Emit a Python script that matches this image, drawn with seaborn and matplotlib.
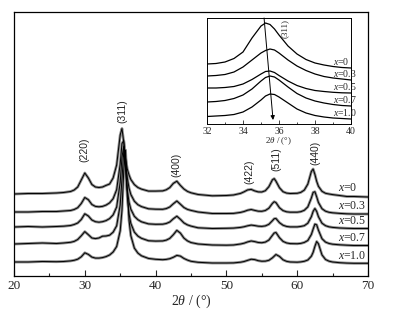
import matplotlib
matplotlib.use("Agg")
import matplotlib.pyplot as plt
from matplotlib.ticker import MultipleLocator
import pandas as pd
import seaborn as sns

# sample names (x in the composition)
samples = ["x=0", "x=0.3", "x=0.5", "x=0.7", "x=1.0"]
sample_tex = [r"$x$=0", r"$x$=0.3", r"$x$=0.5", r"$x$=0.7", r"$x$=1.0"]

# main XRD patterns, 2theta grid and intensity above each baseline (a.u.)
two_theta = [20, 22, 24, 26, 27, 28, 28.5, 29, 29.5, 30,
             30.5, 31, 31.5, 32, 32.5, 33, 33.5, 34, 34.5, 35,
             35.25, 35.5, 35.75, 36, 36.25, 36.5, 37, 37.5, 38, 39,
             40, 41, 41.5, 42, 42.5, 43, 43.5, 44, 44.5, 45,
             46, 48, 50, 51, 52, 52.5, 53, 53.5, 54, 54.5,
             55, 55.5, 56, 56.5, 56.75, 57, 57.5, 58, 58.5, 59,
             60, 60.5, 61, 61.5, 62, 62.25, 62.5, 62.75, 63, 63.5,
             64, 64.5, 65, 66, 67, 68, 70]

int_x00 = [0, 0.5, 0.5, 1, 1.5, 2.5, 4, 7, 14, 21,
           16, 9.5, 7, 6.5, 7, 8.6, 10, 16, 29, 59,
           65.5, 52, 36, 25, 19, 14.5, 9.4, 6.5, 4.9, 2.9,
           2.9, 3.1, 4.2, 6.4, 10.6, 12.8, 8.6, 5, 2.6, 1.2,
           -0.5, -1.8, -1.5, -1, 0.6, 2.2, 4.1, 4.6, 3.1, 2.1,
           2, 3.3, 7.3, 14.2, 15.4, 12.8, 6.2, 2.3, 0.9, 0.5,
           0.7, 1.6, 3.9, 9.9, 22.5, 25, 19.6, 12.7, 7.7, 2.7,
           0.7, 0, -0.6, -1.5, -2.5, -2.5, -3]
int_x03 = [0, 0, 0.5, 0.5, 1, 1.5, 2.5, 4.3, 8.5, 14.5,
           12.3, 7.5, 5.6, 5.2, 5.6, 6.9, 9.1, 13.3, 22.3, 48,
           68.4, 71.5, 52, 34.3, 23.8, 17.5, 10.8, 7.3, 5.4, 3.2,
           2.8, 2.7, 3.4, 5, 8.2, 11, 7.8, 4.5, 2.6, 1.6,
           0, -1.5, -1.5, -1.4, -0.4, 0.5, 1.8, 2.5, 1.6, 0.8,
           0.7, 1.5, 3.8, 8.6, 10.3, 9.4, 4.2, 1.4, 0.2, -0.2,
           -0.2, 0.3, 1.7, 5.1, 14, 19.6, 20.3, 15.2, 9.5, 3.3,
           0.8, -0.3, -0.8, -1.4, -1.8, -2, -2]
int_x05 = [0, 0.5, 0, 0.5, 0.8, 1.5, 2.5, 4, 7.5, 13.2,
           11, 7, 5.3, 4.8, 5.3, 6.4, 8.4, 12.1, 20, 44.6,
           69.7, 81, 58.8, 37.1, 24.7, 17.8, 10.7, 7.3, 5.2, 3.1,
           2.7, 2.8, 3.5, 5, 8.2, 10.8, 7.7, 4.1, 2.1, 0.9,
           -0.8, -1.5, -1.3, -1.1, -0.4, 0.25, 1.2, 1.9, 1.45, 0.8,
           0.6, 1.1, 2.7, 6.3, 8.3, 8.5, 4.3, 1.75, 0.55, 0.1,
           0.1, 0.55, 1.3, 3.8, 10.3, 15.6, 18.5, 15.6, 10.3, 3.8,
           1.3, 0.15, -0.4, -1, -1.3, -1.5, -1.5]
int_x07 = [0, 0.5, 1, 0.5, 1, 1.7, 2.6, 4.5, 8.2, 12.4,
           9.3, 6, 5.4, 6, 7.8, 8, 8.8, 11.8, 18.2, 39.1,
           64.8, 92.8, 78, 47.6, 29.9, 20.6, 11.9, 7.9, 5.7, 3.25,
           2.9, 3.05, 3.85, 5.6, 9.25, 13.65, 10.9, 5.9, 3.1, 1.45,
           0, -1, -1.2, -1, 0, 0.8, 2.1, 3, 2.4, 1.5,
           1.25, 1.9, 3.95, 8.7, 11, 11.5, 6.25, 2.6, 1.05, 0.4,
           0.25, 0.6, 1.55, 3.5, 9.5, 14.9, 19.9, 19.2, 13.8, 5.3,
           1.9, 0.5, -0.2, -0.8, -1.2, -1.5, -1.5]
int_x10 = [0, 0, 0.5, 0.3, 0.5, 1.1, 1.7, 2.8, 5.2, 9.2,
           7.6, 4.9, 3.9, 3.9, 4.4, 5.4, 7, 10, 15.5, 31.2,
           51.6, 90.9, 112, 73.2, 41.6, 26.4, 13.9, 8.9, 6.2, 3.55,
           2.7, 2.3, 2.6, 3.3, 4.7, 6.6, 5.9, 3.55, 1.9, 0.7,
           -0.3, -1, -1, -0.9, -0.2, 0.5, 1.65, 2.75, 2.4, 1.3,
           0.75, 0.85, 1.7, 4.15, 5.8, 7.5, 5.55, 2.2, 0.65, 0.02,
           -0.2, 0.1, 0.7, 2, 5.8, 9.7, 15.6, 20.5, 18.2, 7.1,
           2.5, 0.8, 0, -0.7, -1.1, -1.3, -1.3]
main_curves = [int_x00, int_x03, int_x05, int_x07, int_x10]
offsets = [82, 64, 49, 32, 14]

# peak indexing
hkl = ["(220)", "(311)", "(400)", "(422)", "(511)", "(440)"]
hkl_pos = [29.9, 35.25, 42.9, 53.2, 57.0, 62.6]
hkl_y = [126, 165, 111, 104, 117, 123]

# inset: (311) region, smoothed profiles
inset_theta = [32, 32.5, 33, 33.5, 34, 34.5, 35, 35.25, 35.5, 35.75,
               36, 36.5, 37, 37.5, 38, 38.5, 39, 39.5, 40]
ins_x00 = [60, 60.5, 62, 65.5, 72, 86, 98, 101, 99.5, 95,
           89, 78, 70, 64.5, 61, 59, 57.5, 56.5, 56]
ins_x03 = [48, 48.5, 49.5, 52, 57, 64, 71, 73.5, 75, 74,
           71, 64, 58, 53.5, 50, 47.5, 46, 45, 44]
ins_x05 = [36, 36, 36.5, 37.5, 40, 44.5, 50, 52.5, 53, 51.5,
           48.5, 43, 38.5, 35.5, 33.5, 32.5, 31.7, 31.2, 31]
ins_x07 = [22, 22.5, 23.5, 25.5, 29, 35, 43, 46.5, 48, 47,
           44, 37, 30.5, 26, 23, 21, 19.5, 18.5, 18]
ins_x10 = [7.5, 8, 8.5, 9.5, 12, 17, 24, 28, 30, 29.5,
           27, 21, 15, 11, 8.5, 7, 6, 5.5, 5]
inset_curves = [ins_x00, ins_x03, ins_x05, ins_x07, ins_x10]

# peak shift arrow in the inset (2theta, intensity)
arrow_start = (35.17, 106)
arrow_end = (35.67, 4)


sns.set_theme(style="ticks")
plt.rcParams["font.family"] = ["Liberation Serif", "DejaVu Serif"]
plt.rcParams["mathtext.fontset"] = "custom"
plt.rcParams["mathtext.rm"] = "Liberation Serif"
plt.rcParams["mathtext.it"] = "Liberation Serif:italic"

fig = plt.figure(figsize=(3.96, 3.10), dpi=100)
ax = fig.add_axes([14 / 396, 34 / 310, 354 / 396, 264 / 310])

rows = []
for name, vals, off in zip(samples, main_curves, offsets):
    for t, v in zip(two_theta, vals):
        rows.append({"two_theta": t, "intensity": v + off, "sample": name})
df = pd.DataFrame(rows)

# grey underlay + thin black line to mimic the noisy trace
sns.lineplot(data=df, x="two_theta", y="intensity", units="sample", estimator=None,
             color="0.55", lw=2.0, ax=ax, legend=False)
sns.lineplot(data=df, x="two_theta", y="intensity", units="sample", estimator=None,
             color="black", lw=0.7, ax=ax, legend=False)

ax.set_xlim(20, 70)
ax.set_ylim(0, 264)
ax.set_xticks(range(20, 71, 10))
ax.xaxis.set_minor_locator(MultipleLocator(5))
ax.tick_params(axis="x", which="both", direction="in", top=False, labelsize=9.5, pad=3, width=0.8)
ax.tick_params(axis="x", which="major", length=4)
ax.tick_params(axis="x", which="minor", length=2.5)
ax.set_yticks([])
ax.set_ylabel("")
ax.set_xlabel(r"2$\theta$ / (°)", fontsize=10, labelpad=0)
for s in ax.spines.values():
    s.set_linewidth(0.9)
    s.set_color("black")

for lab, pos, yy in zip(hkl, hkl_pos, hkl_y):
    ax.text(pos, yy, lab, rotation=90, ha="center", va="center", fontsize=7.5,
            family=["Liberation Sans", "DejaVu Sans"])

for lab, off in zip(sample_tex, offsets):
    ax.text(65.8, off + 6, lab, ha="left", va="center", fontsize=8.5)

# inset
ins = fig.add_axes([207 / 396, 186 / 310, 144 / 396, 106 / 310])
rows_in = []
for name, vals in zip(samples, inset_curves):
    for t, v in zip(inset_theta, vals):
        rows_in.append({"two_theta": t, "intensity": v, "sample": name})
df_in = pd.DataFrame(rows_in)
sns.lineplot(data=df_in, x="two_theta", y="intensity", units="sample", estimator=None,
             color="black", lw=0.9, ax=ins, legend=False)

ins.set_xlim(32, 40)
ins.set_ylim(0, 106)
ins.set_xticks(range(32, 41, 2))
ins.xaxis.set_minor_locator(MultipleLocator(1))
ins.tick_params(axis="x", which="both", direction="in", top=False, labelsize=7, pad=2, width=0.6)
ins.tick_params(axis="x", which="major", length=3)
ins.tick_params(axis="x", which="minor", length=1.8)
ins.set_yticks([])
ins.set_ylabel("")
ins.set_xlabel(r"2$\theta$ / (°)", fontsize=6.5, labelpad=0)
for s in ins.spines.values():
    s.set_linewidth(0.7)
    s.set_color("black")

ins.annotate("", xy=arrow_end, xytext=arrow_start,
             arrowprops=dict(arrowstyle="-|>", color="black", lw=0.7,
                             mutation_scale=6, shrinkA=0, shrinkB=0))
ins.text(36.33, 96, "(311)", rotation=90, ha="center", va="center", fontsize=6.5)

for lab, vals in zip(sample_tex, inset_curves):
    ins.text(39.0, vals[-1] + 6.5, lab, ha="left", va="center", fontsize=7)

fig.savefig("out.png", dpi=100)
